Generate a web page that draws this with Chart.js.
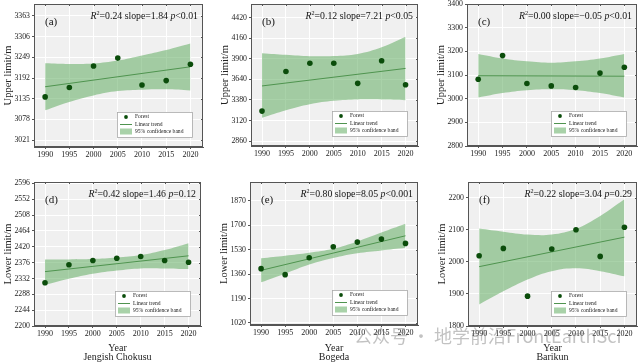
<!DOCTYPE html>
<html>
<head>
<meta charset="utf-8">
<script src="https://cdn.jsdelivr.net/npm/chart.js@4.4.0/dist/chart.umd.min.js"></script>
<style>
  body { margin: 0; background: #fff; width: 639px; height: 363px; overflow: hidden; position: relative; }
  #wm { position: absolute; left: 354px; top: 322px; font: 18px 'Noto Sans CJK SC'; color: rgba(120,120,120,0.45); white-space: nowrap; z-index: 5; }
</style>
</head>
<body>
<div id="wm">公众号 · 地学前沿FrontEarthSci</div>
<script>
const years = [1990, 1995, 2000, 2005, 2010, 2015, 2020];
const trendYears = [1990, 2020];

// (a) Jengish Chokusu, upper limit
const forestA = [3140, 3166, 3225, 3247, 3173, 3185, 3230];
const trendA = [3168, 3223];
const bandHiA = [3233, 3231, 3232, 3240, 3254, 3269, 3287];
const bandLoA = [3103, 3126, 3144, 3156, 3160, 3161, 3158];
const ticksA = [3021, 3078, 3135, 3192, 3249, 3306, 3363];
const statsA = ['0.24', '1.84', '<0.01'];

// (b) Bogeda, upper limit
const forestB = [3240, 3740, 3844, 3844, 3590, 3874, 3573];
const trendB = [3557, 3778];
const bandHiB = [3970, 3949, 3932, 3935, 3961, 4045, 4178];
const bandLoB = [3156, 3252, 3327, 3369, 3386, 3386, 3377];
const ticksB = [2860, 3120, 3380, 3640, 3900, 4160, 4420];
const statsB = ['0.12', '7.21', '<0.05'];

// (c) Barikun, upper limit
const forestC = [3082, 3182, 3064, 3054, 3047, 3108, 3133];
const trendC = [3097, 3095];
const bandHiC = [3189, 3170, 3158, 3152, 3158, 3170, 3189];
const bandLoC = [3005, 3024, 3036, 3040, 3036, 3024, 3005];
const ticksC = [2800, 2900, 3000, 3100, 3200, 3300, 3400];
const statsC = ['0.00', '\u22120.05', '<0.01'];

// (d) Jengish Chokusu, lower limit
const forestD = [2320, 2370, 2382, 2388, 2393, 2382, 2377];
const trendD = [2351, 2395];
const bandHiD = [2385, 2385, 2386, 2390, 2397, 2411, 2430];
const bandLoD = [2314, 2331, 2345, 2354, 2360, 2360, 2358];
const ticksD = [2200, 2244, 2288, 2332, 2376, 2420, 2464, 2508, 2552, 2596];
const statsD = ['0.42', '1.46', '=0.12'];

// (e) Bogeda, lower limit
const forestE = [1398, 1356, 1474, 1551, 1583, 1604, 1574];
const trendE = [1386, 1627];
const bandHiE = [1470, 1488, 1509, 1537, 1588, 1650, 1711];
const bandLoE = [1303, 1363, 1426, 1472, 1505, 1525, 1544];
const ticksE = [1020, 1190, 1360, 1530, 1700, 1870];
const statsE = ['0.80', '8.05', '<0.001'];

// (f) Barikun, lower limit
const forestF = [2019, 2042, 1893, 2040, 2100, 2017, 2108];
const trendF = [1985, 2077];
const bandHiF = [2104, 2094, 2085, 2085, 2103, 2143, 2195];
const bandLoF = [1867, 1908, 1945, 1971, 1980, 1971, 1955];
const ticksF = [1800, 1900, 2000, 2100, 2200];
const statsF = ['0.22', '3.04', '=0.29'];

const FONT = "'Liberation Serif','Times New Roman',serif";
const DOT = '#0b4d0b';
const LINE = '#4f944f';
const BAND = 'rgba(90,168,90,0.52)';
const AXIS = '#555';

// plot boxes in page pixels
const panels = [
  { letter: 'a', L: 34, T: 3, R: 203, B: 147, top: 0, h: 165, min: 3002, max: 3396, ticks: ticksA, forest: forestA, trend: trendA, hi: bandHiA, lo: bandLoA, stats: statsA, yTitle: 'Upper limit/m' },
  { letter: 'b', L: 251, T: 3, R: 418, B: 146, top: 0, h: 165, min: 2800, max: 4590, ticks: ticksB, forest: forestB, trend: trendB, hi: bandHiB, lo: bandLoB, stats: statsB, yTitle: 'Upper limit/m' },
  { letter: 'c', L: 467, T: 1, R: 637, B: 146, top: 0, h: 165, min: 2800, max: 3400, ticks: ticksC, forest: forestC, trend: trendC, hi: bandHiC, lo: bandLoC, stats: statsC, yTitle: 'Upper limit/m' },
  { letter: 'd', L: 34, T: 182, R: 201, B: 326, top: 170, h: 193, min: 2200, max: 2600, ticks: ticksD, forest: forestD, trend: trendD, hi: bandHiD, lo: bandLoD, stats: statsD, yTitle: 'Lower limit/m', xTitle: ['Year', 'Jengish Chokusu'] },
  { letter: 'e', L: 250, T: 182, R: 418, B: 325, top: 170, h: 193, min: 1005, max: 2002, ticks: ticksE, forest: forestE, trend: trendE, hi: bandHiE, lo: bandLoE, stats: statsE, yTitle: 'Lower limit/m', xTitle: ['Year', 'Bogeda'] },
  { letter: 'f', L: 468, T: 182, R: 637, B: 326, top: 170, h: 193, min: 1800, max: 2249, ticks: ticksF, forest: forestF, trend: trendF, hi: bandHiF, lo: bandLoF, stats: statsF, yTitle: 'Lower limit/m', xTitle: ['Year', 'Barikun'] },
];

function drawStats(ctx, right, y, s) {
  const runs = [
    ['R', 'italic', 9.8, 0],
    ['2', '', 6.2, -2.8],
    ['=' + s[0] + ' slope=' + s[1] + ' ', '', 9.8, 0],
    ['p', 'italic', 9.8, 0],
    [s[2], '', 9.8, 0],
  ];
  let w = 0;
  runs.forEach(r => { ctx.font = `${r[1]} ${r[2]}px ${FONT}`; w += ctx.measureText(r[0]).width; });
  let x = right - w;
  ctx.textAlign = 'left';
  ctx.textBaseline = 'middle';
  runs.forEach(r => {
    ctx.font = `${r[1]} ${r[2]}px ${FONT}`;
    ctx.fillText(r[0], x, y + r[3]);
    x += ctx.measureText(r[0]).width;
  });
}

const decor = {
  id: 'decor',
  beforeDraw(chart) {
    const { ctx, chartArea: a } = chart;
    ctx.save();
    ctx.fillStyle = '#f0f0f0';
    ctx.fillRect(a.left, a.top, a.right - a.left, a.bottom - a.top);
    ctx.restore();
  },
  afterDraw(chart, args, o) {
    const { ctx, chartArea: a } = chart;
    ctx.save();
    ctx.strokeStyle = AXIS;
    ctx.lineWidth = 1;
    ctx.strokeRect(a.left + 0.5, a.top + 0.5, a.right - a.left - 1, a.bottom - a.top - 1);
    // small inward ticks on the top and right edges
    const xs = chart.scales.x, ys = chart.scales.y;
    ctx.beginPath();
    xs.ticks.forEach(t => { const px = Math.round(xs.getPixelForValue(t.value)) + 0.5; ctx.moveTo(px, a.top); ctx.lineTo(px, a.top + 2); });
    ys.ticks.forEach(t => { const py = Math.round(ys.getPixelForValue(t.value)) + 0.5; ctx.moveTo(a.right, py); ctx.lineTo(a.right - 2, py); });
    ctx.stroke();

    ctx.fillStyle = '#111';
    ctx.font = `11px ${FONT}`;
    ctx.textAlign = 'left';
    ctx.textBaseline = 'middle';
    ctx.fillText('(' + o.letter + ')', a.left + 11, a.top + 18);
    drawStats(ctx, a.right - 5, a.top + 12, o.stats);

    // legend box
    const bw = 75, bh = 25;
    const bx = a.right - 11 - bw, by = a.bottom - 10 - bh;
    ctx.fillStyle = '#fff';
    ctx.fillRect(bx, by, bw, bh);
    ctx.strokeStyle = '#aaa';
    ctx.lineWidth = 0.8;
    ctx.strokeRect(bx + 0.5, by + 0.5, bw, bh);
    ctx.fillStyle = DOT;
    ctx.beginPath(); ctx.arc(bx + 9, by + 5, 1.9, 0, Math.PI * 2); ctx.fill();
    ctx.strokeStyle = LINE; ctx.lineWidth = 1;
    ctx.beginPath(); ctx.moveTo(bx + 3, by + 12.5); ctx.lineTo(bx + 15, by + 12.5); ctx.stroke();
    ctx.fillStyle = BAND;
    ctx.fillRect(bx + 3, by + 16.5, 12, 6);
    ctx.fillStyle = '#222';
    ctx.font = `5.6px ${FONT}`;
    ctx.fillText('Forest', bx + 18, by + 5);
    ctx.fillText('Linear trend', bx + 18, by + 12.5);
    ctx.fillText('95% confidence band', bx + 18, by + 19.5);
    ctx.restore();
  }
};

function makePanel(p) {
  const W = (p.R - p.L) + 34 + 6;
  const wrap = document.createElement('div');
  wrap.style.cssText = `position:absolute;left:${p.L - 34}px;top:${p.top}px;width:${W}px;height:${p.h}px`;
  const cv = document.createElement('canvas');
  cv.width = W;
  cv.height = p.h;
  wrap.appendChild(cv);
  document.body.appendChild(wrap);
  const pts = (xs, ys) => xs.map((x, i) => ({ x: x, y: ys[i] }));

  new Chart(cv, {
    type: 'line',
    data: {
      datasets: [
        { label: 'Forest', data: pts(years, p.forest), showLine: false, pointRadius: 2.8, pointBackgroundColor: DOT, pointBorderWidth: 0, order: 0 },
        { label: 'Linear trend', data: pts(trendYears, p.trend), borderColor: LINE, borderWidth: 1, pointRadius: 0, order: 1 },
        { label: 'lower', data: pts(years, p.lo), borderWidth: 0, borderColor: 'transparent', pointRadius: 0, tension: 0.4, order: 2 },
        { label: '95% confidence band', data: pts(years, p.hi), borderWidth: 0, borderColor: 'transparent', pointRadius: 0, tension: 0.4, fill: '-1', backgroundColor: BAND, order: 3 },
      ]
    },
    options: {
      responsive: false,
      animation: false,
      layout: { padding: { top: p.T - p.top, right: 6, left: 0, bottom: 0 } },
      plugins: {
        legend: { display: false },
        tooltip: { enabled: false },
        decor: { letter: p.letter, stats: p.stats }
      },
      scales: {
        x: {
          type: 'linear', min: 1987.7, max: 2022.6,
          afterBuildTicks: s => { s.ticks = years.map(v => ({ value: v })); },
          afterFit: s => { s.height = p.top + p.h - p.B; s.paddingLeft = 0; s.paddingRight = 0; },
          ticks: { callback: v => String(v), font: { family: FONT, size: 8 }, color: '#222', padding: 1, maxRotation: 0, autoSkip: false },
          grid: { color: '#fff', tickLength: 2, tickColor: AXIS },
          border: { color: AXIS },
          title: p.xTitle ? { display: true, text: p.xTitle, font: { family: FONT, size: 10, lineHeight: 0.9 }, color: '#222', padding: { top: 0, bottom: 1.5 } } : { display: false }
        },
        y: {
          min: p.min, max: p.max,
          afterBuildTicks: s => { s.ticks = p.ticks.map(v => ({ value: v })); },
          afterFit: s => { s.width = 34; s.paddingTop = 0; s.paddingBottom = 0; },
          ticks: { callback: v => String(v), font: { family: FONT, size: 7.8 }, color: '#222', padding: 2, autoSkip: false },
          grid: { color: '#fff', tickLength: 2, tickColor: AXIS },
          border: { color: AXIS },
          title: { display: true, text: p.yTitle, font: { family: FONT, size: 10.5 }, color: '#222', padding: { top: 2, bottom: 0 } }
        }
      }
    },
    plugins: [decor]
  });
}

panels.forEach(makePanel);
</script>
</body>
</html>
